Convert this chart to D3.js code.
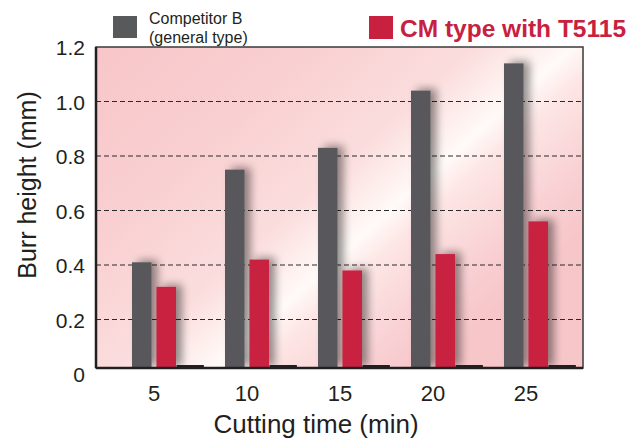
<!DOCTYPE html>
<html>
<head>
<meta charset="utf-8">
<script src="https://cdn.jsdelivr.net/npm/d3@7"></script>
<style>
  body { margin: 0; background: #fff; }
  svg { display: block; font-family: "Liberation Sans", Arial, Helvetica, sans-serif; }
</style>
</head>
<body>
<div id="chart"></div>
<script>
// Data
const times = ["5", "10", "15", "20", "25"];
const series = ["Competitor B", "CM type with T5115"];
const competitorB = [0.41, 0.75, 0.83, 1.04, 1.14];
const cmType = [0.32, 0.42, 0.38, 0.44, 0.56];
const yTicks = [0, 0.2, 0.4, 0.6, 0.8, 1.0, 1.2];

const width = 638, height = 439;
const frame = { left: 96, right: 583, top: 47, bottom: 368 };
const colors = { "Competitor B": "#58595b", "CM type with T5115": "#c8203f" };

const svg = d3.select("#chart").append("svg")
    .attr("width", width)
    .attr("height", height);

const defs = svg.append("defs");

// pink background with a white diagonal sheen
const grad = defs.append("linearGradient")
    .attr("id", "bg")
    .attr("gradientUnits", "userSpaceOnUse")
    .attr("x1", 96).attr("y1", 47)
    .attr("x2", 403).attr("y2", 391);
[
    [0, "#f8c6c9"], [0.3, "#f9cfd1"], [0.55, "#fbdddd"],
    [0.66, "#fef4f2"], [0.69, "#fffaf8"], [0.75, "#fde6e5"], [0.9, "#f9d0d3"], [1, "#f7c6c9"]
].forEach(([o, c]) => grad.append("stop").attr("offset", o).attr("stop-color", c));

const shadow = defs.append("filter")
    .attr("id", "shadow")
    .attr("x", "-50%").attr("y", "-20%")
    .attr("width", "250%").attr("height", "140%");
shadow.append("feGaussianBlur").attr("in", "SourceAlpha").attr("stdDeviation", 4);
shadow.append("feOffset").attr("dx", 6).attr("dy", -2).attr("result", "blur");
shadow.append("feComponentTransfer").append("feFuncA").attr("type", "linear").attr("slope", 0.42);
const merge = shadow.append("feMerge");
merge.append("feMergeNode");
merge.append("feMergeNode").attr("in", "SourceGraphic");

defs.append("clipPath").attr("id", "plotClip")
    .append("rect")
    .attr("x", frame.left).attr("y", frame.top)
    .attr("width", frame.right - frame.left)
    .attr("height", frame.bottom - frame.top);

// Scales
const x = d3.scaleBand().domain(times).range([110, 575]);
const inner = d3.scaleBand().domain(series).range([22, 66]).paddingInner(0.2);
const y = d3.scaleLinear().domain([0, 1.2]).range([374, frame.top]);

// Background
svg.append("rect")
    .attr("x", frame.left).attr("y", frame.top)
    .attr("width", frame.right - frame.left)
    .attr("height", frame.bottom - frame.top)
    .attr("fill", "url(#bg)");

// Dashed gridlines
svg.append("g")
    .selectAll("line")
    .data(yTicks.filter(t => t > 0 && t < 1.2))
    .join("line")
    .attr("x1", frame.left).attr("x2", frame.right)
    .attr("y1", d => y(d)).attr("y2", d => y(d))
    .attr("stroke", "#2b2b2b")
    .attr("stroke-width", 1.2)
    .attr("stroke-dasharray", "5,3");

// Bars
const plot = svg.append("g").attr("clip-path", "url(#plotClip)");
const rows = times.map((t, i) => ({ t, values: [competitorB[i], cmType[i]] }));

const groups = plot.selectAll(".grp")
    .data(rows)
    .join("g")
    .attr("class", "grp")
    .attr("transform", d => `translate(${x(d.t)},0)`);

groups.selectAll("rect.bar")
    .data(d => series.map((s, k) => ({ s, v: d.values[k] })))
    .join("rect")
    .attr("class", "bar")
    .attr("x", d => inner(d.s))
    .attr("y", d => y(d.v))
    .attr("width", inner.bandwidth())
    .attr("height", d => frame.bottom - y(d.v))
    .attr("fill", d => colors[d.s])
    .attr("filter", "url(#shadow)");

// dark baseline stub after each pair
groups.append("rect")
    .attr("x", inner(series[1]) + inner.bandwidth() + 0.5)
    .attr("y", frame.bottom - 3)
    .attr("width", inner.bandwidth() * 1.4)
    .attr("height", 3)
    .attr("fill", "#231f20");

// Frame
svg.append("rect")
    .attr("x", frame.left).attr("y", frame.top)
    .attr("width", frame.right - frame.left)
    .attr("height", frame.bottom - frame.top)
    .attr("fill", "none")
    .attr("stroke", "#3a3a3a")
    .attr("stroke-width", 1.5);
svg.append("line")
    .attr("x1", frame.left).attr("x2", frame.left)
    .attr("y1", frame.top).attr("y2", frame.bottom)
    .attr("stroke", "#231f20").attr("stroke-width", 2.5);
svg.append("line")
    .attr("x1", frame.left).attr("x2", frame.right)
    .attr("y1", frame.bottom).attr("y2", frame.bottom)
    .attr("stroke", "#231f20").attr("stroke-width", 2.5);

// Y tick labels
svg.append("g")
    .selectAll("text")
    .data(yTicks)
    .join("text")
    .attr("x", 85)
    .attr("y", d => y(d))
    .attr("dy", "0.4em")
    .attr("text-anchor", "end")
    .attr("font-size", 21)
    .attr("fill", "#231f20")
    .text(d => d === 0 ? "0" : d.toFixed(1));

// X tick labels (centred on each pair)
svg.append("g")
    .selectAll("text")
    .data(times)
    .join("text")
    .attr("x", d => x(d) + (inner(series[0]) + inner(series[1]) + inner.bandwidth()) / 2)
    .attr("y", 401)
    .attr("text-anchor", "middle")
    .attr("font-size", 22)
    .attr("fill", "#231f20")
    .text(d => d);

// Axis titles
svg.append("text")
    .attr("x", 316).attr("y", 433)
    .attr("text-anchor", "middle")
    .attr("font-size", 26)
    .attr("fill", "#231f20")
    .text("Cutting time (min)");

svg.append("text")
    .attr("transform", "translate(36,185) rotate(-90)")
    .attr("text-anchor", "middle")
    .attr("font-size", 25)
    .attr("fill", "#231f20")
    .text("Burr height (mm)");

// Legend
svg.append("rect")
    .attr("x", 113).attr("y", 16).attr("width", 24).attr("height", 22)
    .attr("fill", colors[series[0]]);
svg.append("text")
    .attr("x", 149).attr("y", 24)
    .attr("font-size", 16).attr("fill", "#231f20")
    .text("Competitor B");
svg.append("text")
    .attr("x", 149).attr("y", 43)
    .attr("font-size", 16).attr("fill", "#231f20")
    .text("(general type)");

svg.append("rect")
    .attr("x", 369).attr("y", 16).attr("width", 24).attr("height", 23)
    .attr("fill", colors[series[1]]);
svg.append("text")
    .attr("x", 400).attr("y", 37)
    .attr("font-size", 24.5).attr("font-weight", "bold")
    .attr("fill", colors[series[1]])
    .text("CM type with T5115");
</script>
</body>
</html>
